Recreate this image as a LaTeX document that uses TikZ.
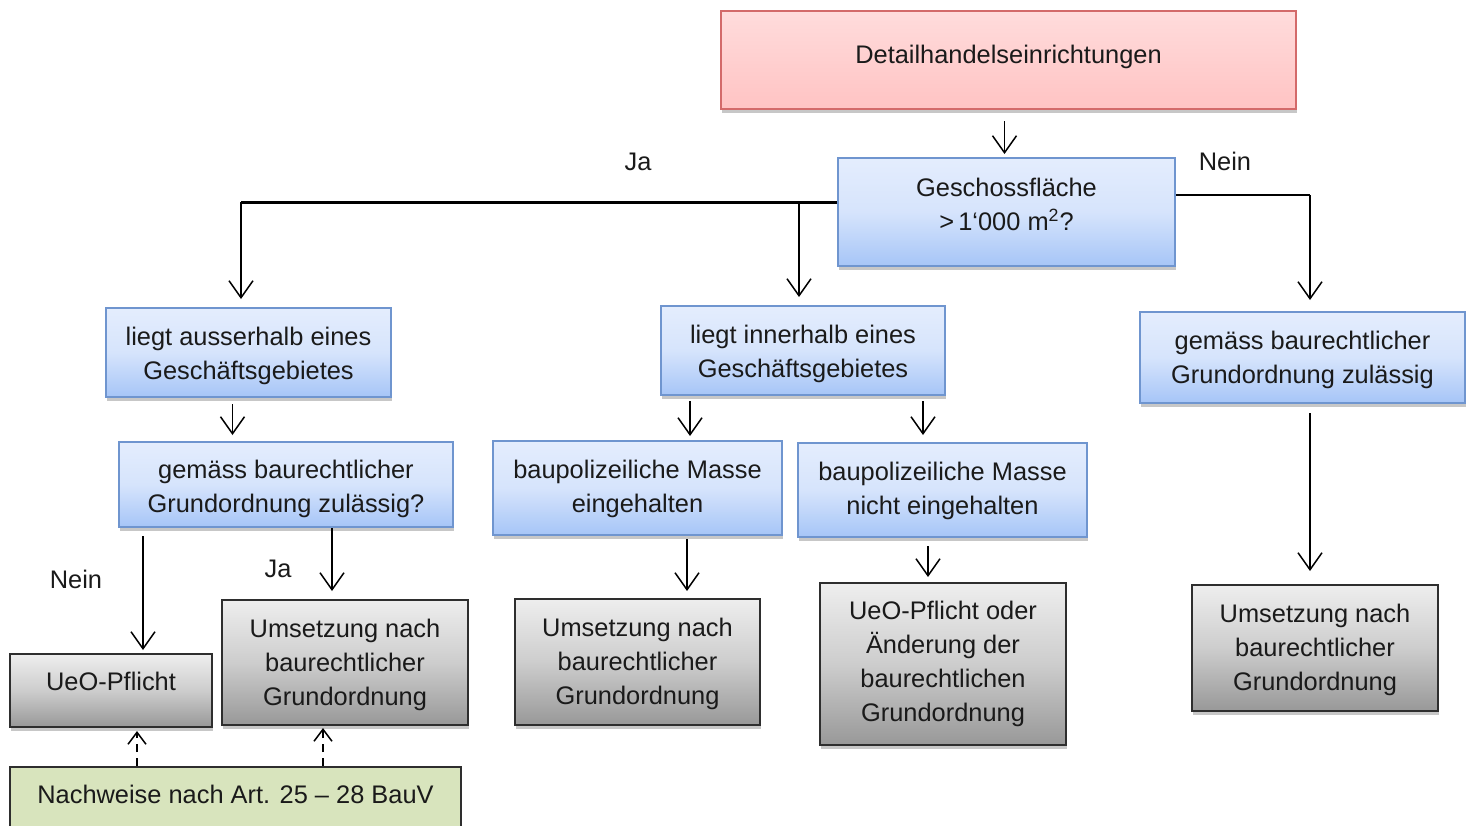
\documentclass[tikz,border=0pt]{standalone}
\usepackage{fontspec}
\setmainfont{Liberation Sans}
\usetikzlibrary{arrows.meta,shadows,calc}
\definecolor{txt}{HTML}{1A1A1A}
\definecolor{bluetop}{HTML}{E4EDFD}
\definecolor{bluemid}{HTML}{D6E4FC}
\definecolor{bluebot}{HTML}{A6C5F7}
\definecolor{blueline}{HTML}{6F95CF}
\definecolor{greytop}{HTML}{EEEEEE}
\definecolor{greymid}{HTML}{CDCDCD}
\definecolor{greybot}{HTML}{989898}
\definecolor{greyline}{HTML}{2E2E2E}
\definecolor{redtop}{HTML}{FFDCDC}
\definecolor{redbot}{HTML}{FFC3C3}
\definecolor{redline}{HTML}{D36A6A}
\definecolor{greenfill}{HTML}{D8E4BD}
\newcommand{\shiftedtext}[2]{\raisebox{#1}[\height][\depth]{\begin{tabular}{@{}c@{}}#2\end{tabular}}}
\tikzset{
  base/.style={rectangle, align=center, inner sep=0pt, text=txt,
    font=\fontsize{12.7pt}{17pt}\selectfont,
    drop shadow={fill=black, opacity=0.22, shadow xshift=0.6pt, shadow yshift=-2pt}},
  bluebox/.style={base, draw=blueline, line width=1pt,
    top color=bluetop, bottom color=bluebot, middle color=bluemid},
  greybox/.style={base, draw=greyline, line width=1pt,
    top color=greytop, bottom color=greybot, middle color=greymid},
  redbox/.style={base, draw=redline, line width=1pt,
    top color=redtop, bottom color=redbot},
  greenbox/.style={base, draw=greyline, line width=1pt, fill=greenfill},
  lbl/.style={text=txt, font=\fontsize{12.7pt}{17pt}\selectfont, inner sep=0pt},
  arr/.style={draw=black, line width=0.75pt, -{Straight Barb[length=8.5pt,width=12pt,line width=0.75pt]}},
  darr/.style={draw=black, line width=0.75pt, dash pattern=on 4pt off 3pt,
    -{Straight Barb[length=6pt,width=9pt,line width=0.75pt]}},
}
\begin{document}
\begin{tikzpicture}[x=0.5pt,y=-0.5pt]
\useasboundingbox (0,0) rectangle (1472,825);
% nodes
\node[redbox, minimum width=287.5pt, minimum height=49pt] (det) at (1008.5,60) {\shiftedtext{1.5pt}{Detailhandelseinrichtungen}};
\node[bluebox, minimum width=168.5pt, minimum height=54pt] (gesch) at (1006.5,212) {\shiftedtext{2.75pt}{Geschossfläche\\ >\,1‘000 m\textsuperscript{2}?}};
\node[bluebox, minimum width=142.5pt, minimum height=44.5pt] (A) at (248.5,352.5) {\shiftedtext{-1.5pt}{liegt ausserhalb eines\\Geschäftsgebietes}};
\node[bluebox, minimum width=142pt, minimum height=44.5pt] (B) at (803,350.5) {\shiftedtext{-1.5pt}{liegt innerhalb eines\\Geschäftsgebietes}};
\node[bluebox, minimum width=162.5pt, minimum height=45.5pt] (C) at (1302.5,357.5) {\shiftedtext{-1pt}{gemäss baurechtlicher\\Grundordnung zulässig}};
\node[bluebox, minimum width=167pt, minimum height=42.5pt] (D) at (286,484.5) {\shiftedtext{-2.25pt}{gemäss baurechtlicher\\Grundordnung zulässig?}};
\node[bluebox, minimum width=144.5pt, minimum height=47pt] (E) at (637.5,488) {\shiftedtext{-0.5pt}{baupolizeiliche Masse\\eingehalten}};
\node[bluebox, minimum width=144.5pt, minimum height=47pt] (F) at (942.5,490) {\shiftedtext{-0.5pt}{baupolizeiliche Masse\\nicht eingehalten}};
\node[greybox, minimum width=101pt, minimum height=36.5pt] (G) at (111,690.5) {\shiftedtext{3.5pt}{UeO-Pflicht}};
\node[greybox, minimum width=123pt, minimum height=62.5pt] (H) at (345,662.5) {\shiftedtext{-1pt}{Umsetzung nach\\baurechtlicher\\Grundordnung}};
\node[greybox, minimum width=122.5pt, minimum height=63pt] (I) at (637.5,662) {\shiftedtext{-1pt}{Umsetzung nach\\baurechtlicher\\Grundordnung}};
\node[greybox, minimum width=123pt, minimum height=81pt] (J) at (943,664) {\shiftedtext{0pt}{UeO-Pflicht oder\\Änderung der\\baurechtlichen\\Grundordnung}};
\node[greybox, minimum width=123pt, minimum height=63pt] (K) at (1315,648) {\shiftedtext{-1pt}{Umsetzung nach\\baurechtlicher\\Grundordnung}};
\node[greenbox, minimum width=225.5pt, minimum height=40pt, anchor=north] (L) at (235.5,766) {\shiftedtext{5pt}{Nachweise nach Art. 25 -- 28 BauV}};
% labels
\node[lbl] (ja1) at (638,162) {Ja};
\node[lbl] (nein1) at (1225,161) {Nein};
\node[lbl] (nein2) at (76,579) {Nein};
\node[lbl] (ja2) at (278,569) {Ja};
% junction coordinates
\coordinate (jL) at (241,202);
\coordinate (jM) at (799,202);
\coordinate (jR) at (1310,195);
% connectors
\draw[arr, shorten <=5.5pt, shorten >=1.5pt] ([xshift=-2pt]det.south) -- ([xshift=-2pt]det.south |- gesch.north);
\draw[line width=1.5pt] (gesch.west |- jL) -- (jL);
\draw[arr, shorten >=4pt] (jL) -- (jL |- A.north);
\draw[arr, shorten >=4pt] (jM) -- (jM |- B.north);
\draw[line width=0.75pt] (gesch.east |- jR) -- (jR);
\draw[arr, shorten >=5.5pt] (jR) -- (jR |- C.north);
\draw[arr, shorten <=3pt, shorten >=3pt] ([xshift=-8pt]A.south) -- ([xshift=-8pt]A.south |- D.north);
\draw[arr, shorten <=2.5pt, shorten >=2pt] ([xshift=-56.5pt]B.south) -- ([xshift=-56.5pt]B.south |- E.north);
\draw[arr, shorten <=2.5pt, shorten >=3.5pt] ([xshift=60pt]B.south) -- ([xshift=60pt]B.south |- F.north);
\draw[arr, shorten <=4pt, shorten >=1.5pt] ([xshift=-71.5pt]D.south) -- ([xshift=-71.5pt]D.south |- G.north);
\draw[arr, shorten >=4pt] ([xshift=23pt]D.south) -- ([xshift=23pt]D.south |- H.north);
\draw[arr, shorten <=1.5pt, shorten >=3.5pt] ([xshift=24.75pt]E.south) -- ([xshift=24.75pt]E.south |- I.north);
\draw[arr, shorten <=4pt, shorten >=2.5pt] ([xshift=-7.25pt]F.south) -- ([xshift=-7.25pt]F.south |- J.north);
\draw[arr, shorten <=4.5pt, shorten >=6.5pt] ([xshift=3.75pt]C.south) -- ([xshift=3.75pt]C.south |- K.north);
\draw[darr, shorten >=1.5pt] ([xshift=13pt]G.south |- L.north) -- ([xshift=13pt]G.south);
\draw[darr, shorten >=1pt] ([xshift=-11pt]H.south |- L.north) -- ([xshift=-11pt]H.south);
\end{tikzpicture}
\end{document}
